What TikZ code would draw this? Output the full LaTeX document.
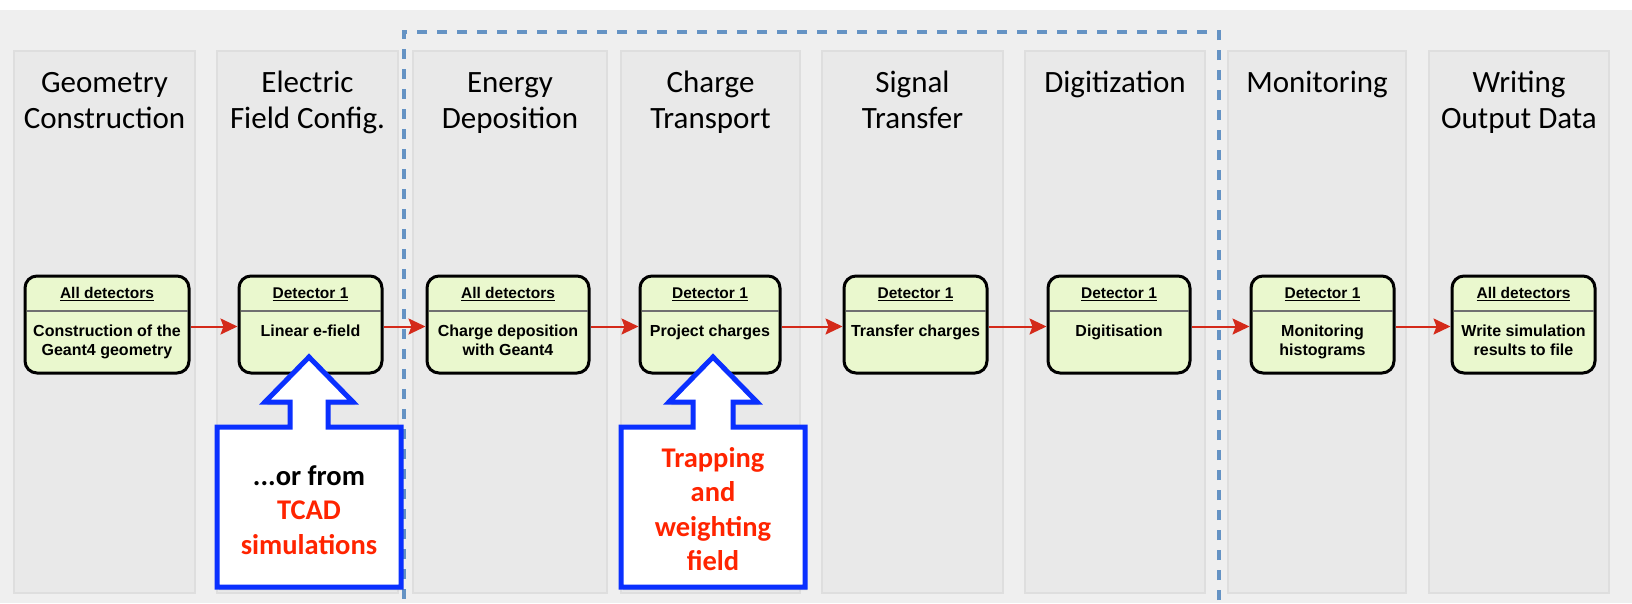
\documentclass[tikz,border=0pt]{standalone}
\usepackage{fontspec}
\setmainfont{Carlito}
\newfontfamily\boxfont{Liberation Sans}
\usetikzlibrary{arrows.meta,shadows}

\definecolor{bg}{HTML}{EFEFEF}
\definecolor{colfill}{HTML}{E9E9E9}
\definecolor{colline}{HTML}{DEDEDE}
\definecolor{stagefill}{HTML}{EAF8CE}
\definecolor{flowred}{HTML}{D42A1A}
\definecolor{calloutblue}{HTML}{0A30FF}
\definecolor{notered}{HTML}{FF2400}
\definecolor{dashblue}{HTML}{6593C4}
\definecolor{sepgray}{HTML}{707070}

\tikzset{
  column/.style={fill=colfill, draw=colline, line width=2pt, minimum height=542pt, inner sep=0pt},
  coltitle/.style={anchor=north, inner sep=0pt, align=center,
    font=\fontsize{31}{36}\selectfont},
  stagebox/.style={draw=black, line width=3pt, rounded corners=12pt, fill=stagefill,
    minimum height=97pt, inner sep=0pt, outer sep=0pt},
  headtext/.style={inner sep=0pt, font=\boxfont\bfseries\fontsize{15.5}{19}\selectfont},
  bodytext/.style={anchor=north, inner sep=0pt, align=center,
    font=\boxfont\bfseries\fontsize{16}{19}\selectfont},
  sepline/.style={draw=sepgray, line width=1.5pt},
  flow/.style={draw=flowred, line width=2pt,
    -{Stealth[length=17pt, width=16pt, inset=3pt]}, shorten <=1.5pt, shorten >=1.5pt},
  callout/.style={draw=calloutblue, line width=5pt, fill=white, line join=miter,
    drop shadow={opacity=0.35, shadow xshift=2pt, shadow yshift=-3pt}},
  notetext/.style={align=center, inner sep=0pt,
    font=\bfseries\fontsize{28.5}{34.5}\selectfont},
  stagelimit/.style={draw=dashblue, line width=4pt, dash pattern=on 10pt off 10pt}
}

\begin{document}
\begin{tikzpicture}[x=1pt, y=-1pt]
  \path[use as bounding box] (0,0) rectangle (1632,603);
  \fill[white] (0,0) rectangle (1632,10);
  \fill[bg] (0,10) rectangle (1632,603);

  % columns, one per simulation stage
  \node[column, minimum width=181pt] (c1) at (104.5,322) {};
  \node[column, minimum width=181pt] (c2) at (307.5,322) {};
  \node[column, minimum width=194pt] (c3) at (510,322) {};
  \node[column, minimum width=179pt] (c4) at (710.5,322) {};
  \node[column, minimum width=181pt] (c5) at (912.5,322) {};
  \node[column, minimum width=180pt] (c6) at (1115,322) {};
  \node[column, minimum width=178pt] (c7) at (1317,322) {};
  \node[column, minimum width=180pt] (c8) at (1519,322) {};

  % stage titles
  \node[coltitle] (t1) at (104.5,67) {\strut Geometry\\Construction};
  \node[coltitle] (t2) at (307.5,67) {\strut Electric\\Field Config.};
  \node[coltitle] (t3) at (510,67) {\strut Energy\\Deposition};
  \node[coltitle] (t4) at (710.5,67) {\strut Charge\\Transport};
  \node[coltitle] (t5) at (912.5,67) {\strut Signal\\Transfer};
  \node[coltitle] (t6) at (1115,67) {\strut Digitization};
  \node[coltitle] (t7) at (1317,67) {\strut Monitoring};
  \node[coltitle] (t8) at (1519,67) {\strut Writing\\Output Data};

  % stages run per event
  \draw[stagelimit] (1219,620) -- (1219,32) -- (404,32) -- (404,620);

  % module boxes
  \node[stagebox, minimum width=164pt] (b1) at (107,324.5) {};
  \node[stagebox, minimum width=143pt] (b2) at (310.5,324.5) {};
  \node[stagebox, minimum width=162pt] (b3) at (508,324.5) {};
  \node[stagebox, minimum width=140pt] (b4) at (710,324.5) {};
  \node[stagebox, minimum width=143pt] (b5) at (915.5,324.5) {};
  \node[stagebox, minimum width=142pt] (b6) at (1119,324.5) {};
  \node[stagebox, minimum width=143pt] (b7) at (1322.5,324.5) {};
  \node[stagebox, minimum width=143pt] (b8) at (1523.5,324.5) {};

  \foreach \b/\h/\t in {
      b1/All detectors/Construction of the\\Geant4 geometry,
      b2/Detector 1/Linear e-field,
      b3/All detectors/Charge deposition\\with Geant4,
      b4/Detector 1/Project charges,
      b5/Detector 1/Transfer charges,
      b6/Detector 1/Digitisation,
      b7/Detector 1/Monitoring\\histograms,
      b8/All detectors/Write simulation\\results to file} {
    \draw[sepline] ([xshift=1.5pt, yshift=-35pt]\b.north west) -- ([xshift=-1.5pt, yshift=-35pt]\b.north east);
    \path (\b.north) ++(0,18) node[headtext] (\b h) {\underline{\h}};
    \path (\b.north) ++(0,46.5) node[bodytext] (\b t) {\strut\t};
  }

  % data flow between modules
  \foreach \a/\z in {b1/b2, b2/b3, b3/b4, b4/b5, b5/b6, b6/b7, b7/b8}
    \draw[flow] ([yshift=-2pt]\a.east) -- ([yshift=-2pt]\z.west);

  % callouts pointing at the configurable modules
  \begin{scope}[shift={(309,0)}]
    \draw[callout] (0,357) -- (44,402) -- (19,402) -- (19,427) -- (92,427) -- (92,587)
      -- (-92,587) -- (-92,427) -- (-19,427) -- (-19,402) -- (-44,402) -- cycle;
  \end{scope}
  \node[notetext] (n1) at (309,510) {...or from\\\textcolor{notered}{TCAD}\\\textcolor{notered}{simulations}};

  \begin{scope}[shift={(713,0)}]
    \draw[callout] (0,357) -- (44,402) -- (20,402) -- (20,427) -- (92,427) -- (92,587)
      -- (-92,587) -- (-92,427) -- (-20,427) -- (-20,402) -- (-44,402) -- cycle;
  \end{scope}
  \node[notetext, text=notered] (n2) at (713,509) {Trapping\\and\\weighting\\field};
\end{tikzpicture}
\end{document}
